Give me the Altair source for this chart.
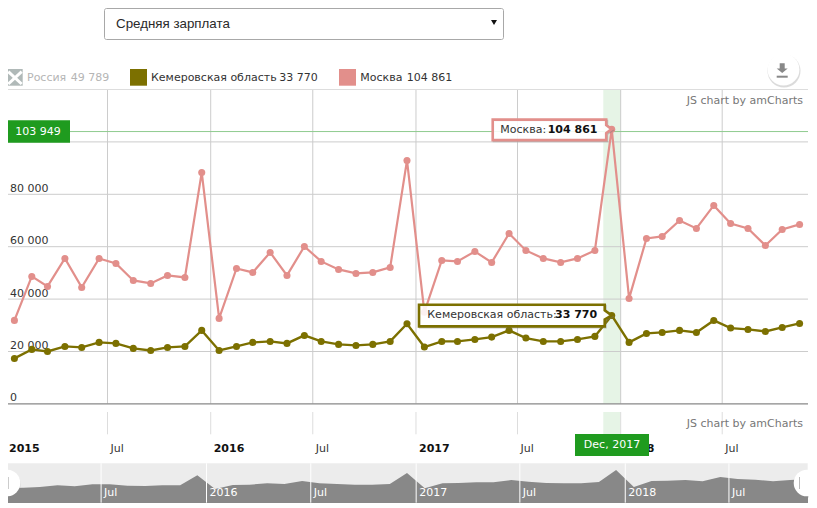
import altair as alt
import pandas as pd

months = [f"{y}-{m:02d}-16" for y in range(2015, 2019) for m in range(1, 13)][:47]
moscow = [31870, 48650, 44840, 55520, 44460, 55520, 53600, 47130, 45980, 49040, 48270, 88340,
          32630, 51700, 50180, 57820, 49040, 60100, 54380, 51330, 49800, 50180, 52090, 92920,
          35000, 54760, 54380, 58190, 54000, 65060, 58570, 55520, 54000, 55520, 58570, 104861,
          40260, 63150, 63920, 70020, 66970, 75750, 68880, 66970, 60480, 66590, 68500]
kemerovo = [17360, 20800, 20030, 21940, 21560, 23470, 23090, 21180, 20410, 21560, 21940, 28050,
            20410, 21940, 23470, 23850, 23090, 26140, 23850, 22710, 22320, 22710, 23850, 30590,
            21690, 23850, 23850, 24610, 25500, 28050, 25120, 23850, 23850, 24610, 25760, 33770,
            23470, 26900, 27280, 28050, 27280, 31860, 28940, 28430, 27660, 29190, 30720]
russia = [33600, 33900, 34500, 36000, 35100, 36900, 36900, 35700, 35400, 36000, 36000, 45000,
          32700, 36300, 36600, 37800, 37200, 39900, 37800, 37200, 36600, 36600, 37200, 47100,
          33300, 37800, 38100, 38700, 38700, 40800, 39300, 38100, 37800, 37800, 39000, 49789,
          34500, 39900, 40200, 40800, 39600, 43500, 41700, 41100, 39600, 40800, 41700]

y_ticks = [0, 20000, 40000, 60000, 80000, 100000]
y_labels = ["0", "20 000", "40 000", "60 000", "80 000"]
half_years = ["2015-07-01", "2016-07-01", "2017-07-01", "2018-07-01"]
year_starts = ["2015-01-01", "2016-01-01", "2017-01-01", "2018-01-01"]
year_names = ["2015", "2016", "2017", "2018"]
cursor_month = ["2017-12-01"]
cursor_next = ["2018-01-01"]
cursor_value = [103949]

FONT = "DejaVu Sans"
PINK = "#e28f8b"
OLIVE = "#7c7000"
GREEN = "#1f9b1f"

main = pd.DataFrame({"d": months, "moscow": moscow, "kemerovo": kemerovo, "russia": russia})
one = pd.DataFrame({"a": [0]})
tips = pd.DataFrame({"d": ["2017-12-16"], "m": [104861], "k": [33770]})

# scales reach past the plot area because the page margin is fixed
xs = alt.Scale(domain=["2015-01-01", "2018-12-01"], range=[-2, 800])
xn = alt.Scale(domain=["2015-01-16", "2018-11-16"], range=[-2, 800])
ys = alt.Scale(domain=[0, 120000], range=[395.9, 81.5])
yn = alt.Scale(domain=[20400, 55800], range=[494.7, 455.3])


def X(field="d", scale=xs):
    return alt.X(f"{field}:T", scale=scale, axis=None)


def Y(field):
    return alt.Y(f"{field}:Q", scale=ys, axis=None)


def txt(s, x, y, color="#333333", size=11, align="left", font=FONT, weight="normal"):
    return alt.Chart(one).mark_text(text=s, align=align, baseline="middle", font=font, fontSize=size,
                                    color=color, fontWeight=weight).encode(
        x=alt.value(x - 8), y=alt.value(y - 8))


def box(x1, x2, y1, y2, fill, stroke=None, radius=0):
    kw = {"stroke": stroke, "strokeWidth": 1} if stroke else {}
    return alt.Chart(one).mark_rect(fill=fill, cornerRadius=radius, **kw).encode(
        x=alt.value(x1 - 8), x2=alt.value(x2 - 8), y=alt.value(y1 - 8), y2=alt.value(y2 - 8))


def disc(x, y, size, color="white", opacity=1.0):
    return alt.Chart(one).mark_point(shape="circle", filled=True, size=size, color=color,
                                     opacity=opacity).encode(x=alt.value(x - 8), y=alt.value(y - 8))


def stroke_line(x1, y1, x2, y2, color, width):
    return alt.Chart(one).mark_rule(color=color, strokeWidth=width).encode(
        x=alt.value(x1 - 8), x2=alt.value(x2 - 8), y=alt.value(y1 - 8), y2=alt.value(y2 - 8))


ticks = pd.DataFrame({"d": sorted(half_years + year_starts)})
ticks_nav = ticks[ticks.d > "2015-01-01"]
years = pd.DataFrame({"d": year_starts, "t": year_names})
halves = pd.DataFrame({"d": half_years})
band = pd.DataFrame({"d": cursor_month, "e": cursor_next})
ytick = pd.DataFrame({"v": y_ticks})
ylab = pd.DataFrame({"v": y_ticks[:5], "t": y_labels})
cross = pd.DataFrame({"v": cursor_value})

layers = []

# dropdown
layers += [
    box(104.5, 503.5, 8.5, 39.5, "white", "#a8a8a8", 2),
    txt("Средняя зарплата", 116, 24, "#2a2a2a", 13.33, font="Liberation Sans"),
    alt.Chart(one).mark_point(shape="triangle-down", filled=True, size=36, color="#111111", opacity=1).encode(
        x=alt.value(494 - 8), y=alt.value(22.5 - 8)),
]

# green cursor band, frame and grid
for y1, y2 in [(89, 403.5), (412, 434.3)]:
    layers.append(alt.Chart(band).mark_rect(color="#e6f4e6").encode(
        x=X("d"), x2=alt.X2("e:T"), y=alt.value(y1 - 8), y2=alt.value(y2 - 8)))
layers += [
    alt.Chart(ticks).mark_rule(color="#cccccc", strokeWidth=1).encode(
        x=X(), y=alt.value(81), y2=alt.value(395.5)),
    alt.Chart(ticks).mark_rule(color="#dddddd", strokeWidth=1).encode(
        x=X(), y=alt.value(404), y2=alt.value(426.3)),
    alt.Chart(ytick[ytick.v > 0]).mark_rule(color="#cccccc", strokeWidth=1).encode(
        y=Y("v"), x=alt.value(-2), x2=alt.value(800)),
    alt.Chart(one).mark_rule(color="#dddddd", strokeWidth=1).encode(
        y=alt.value(81.5), x=alt.value(-2), x2=alt.value(800)),
    alt.Chart(ytick[ytick.v == 0]).mark_rule(color="#888888", strokeWidth=1.2).encode(
        y=Y("v"), x=alt.value(-2), x2=alt.value(800)),
    alt.Chart(cross).mark_rule(color="#8fcb8f", strokeWidth=1).encode(
        y=Y("v"), x=alt.value(-2), x2=alt.value(800)),
]

# value axis labels and credits
layers += [
    alt.Chart(ylab).mark_text(align="left", baseline="middle", font=FONT, fontSize=11, color="#333333",
                              dy=-5.5).encode(x=alt.value(2), y=Y("v"), text="t:N"),
    txt("JS chart by amCharts", 803, 101, "#777777", align="right"),
    txt("JS chart by amCharts", 803, 424, "#777777", align="right"),
]

# series
layers += [
    alt.Chart(main).mark_line(color=PINK, strokeWidth=2.2).encode(x=X(), y=Y("moscow")),
    alt.Chart(main).mark_point(filled=True, color=PINK, opacity=1, size=50).encode(x=X(), y=Y("moscow")),
    alt.Chart(main).mark_line(color=OLIVE, strokeWidth=2.4).encode(x=X(), y=Y("kemerovo")),
    alt.Chart(main).mark_point(filled=True, color=OLIVE, opacity=1, size=50).encode(x=X(), y=Y("kemerovo")),
]

# date axis
layers += [
    alt.Chart(years).mark_text(align="left", baseline="middle", font=FONT, fontSize=11, fontWeight="bold",
                               color="#111111", dx=3).encode(x=X(), y=alt.value(441), text="t:N"),
    alt.Chart(halves).mark_text(text="Jul", align="left", baseline="middle", font=FONT, fontSize=11,
                                color="#333333", dx=3).encode(x=X(), y=alt.value(441)),
]

# balloons: paths are drawn relative to the data point they point at
moscow_path = "M-119,-9.5 L-5.5,-9.5 L-5.5,-4 L0,0 L-5.5,4 L-5.5,11 L-119,11 Z"
kem_path = "M-192.7,-10.7 L-7,-10.7 L-7,-5 L0,0 L-7,4 L-7,11 L-192.7,11 Z"
moscow_shadow = "M-118,-8.5 L-4.5,-8.5 L-4.5,-3 L1,1 L-4.5,5 L-4.5,12 L-118,12 Z"
kem_shadow = "M-191.7,-9.7 L-6,-9.7 L-6,-4 L1,1 L-6,5 L-6,12 L-191.7,12 Z"
for shadow, path, field, col in [(moscow_shadow, moscow_path, "m", PINK), (kem_shadow, kem_path, "k", OLIVE)]:
    layers.append(alt.Chart(tips).mark_point(shape=shadow, size=4, filled=False, stroke="#777777",
                                             strokeWidth=2, opacity=0.4).encode(x=X(), y=Y(field)))
    layers.append(alt.Chart(tips).mark_point(shape=path, size=4, filled=True, fill="white", fillOpacity=0.88,
                                             stroke=col, strokeWidth=2.6, opacity=1).encode(x=X(), y=Y(field)))
layers += [
    txt("Москва:", 500.3, 129.5),
    txt("104 861", 547.7, 129.5, "#111111", weight="bold"),
    txt("Кемеровская область:", 427.3, 315),
    txt("33 770", 555, 315, "#111111", weight="bold"),
]

# cursor labels
layers += [
    box(6, 70, 120.3, 142.7, GREEN),
    txt("103 949", 38, 132, "white", align="center"),
    box(575, 649, 434, 456, GREEN),
    txt("Dec, 2017", 612, 445, "white", align="center"),
]

# legend
layers += [
    box(6, 22.7, 69, 85.7, "#b0b9b8"),
    stroke_line(8.3, 71.7, 21.7, 84, "white", 3),
    stroke_line(8.3, 84, 21.7, 71.7, "white", 3),
    txt("Россия", 27, 78, "#b5b5b5"),
    txt("49 789", 70.7, 78, "#b5b5b5"),
    box(130, 147, 69, 85.7, OLIVE),
    txt("Кемеровская область", 151, 78),
    txt("33 770", 279.3, 78),
    box(339, 356, 69, 85.7, PINK),
    txt("Москва", 360.3, 78),
    txt("104 861", 406.7, 78),
]

# download button
layers += [
    disc(784, 71, 1090, "#888888", 0.3),
    disc(783.5, 69.5, 1018),
    alt.Chart(one).mark_point(shape="M-2.5,-4.7 L2.5,-4.7 L2.5,0.5 L5.5,0.5 L0,5 L-5.5,0.5 L-2.5,0.5 Z",
                              size=4, filled=True, color="#888888", opacity=1).encode(
        x=alt.value(782.2 - 8), y=alt.value(68 - 8)),
    box(776.7, 787.7, 75.7, 77.7, "#888888"),
]

# navigator
layers += [
    box(6, 807.7, 463.3, 502.7, "#ececec"),
    alt.Chart(main).mark_area(color="#888888", opacity=1).encode(
        x=X("d", xn), y=alt.Y("russia:Q", scale=yn, axis=None), y2=alt.value(494.7)),
    alt.Chart(ticks_nav).mark_rule(color="white", strokeWidth=1).encode(
        x=X("d", xn), y=alt.value(455.3), y2=alt.value(494.7)),
    alt.Chart(years[years.d > "2015-01-01"]).mark_text(align="left", baseline="middle", font=FONT, fontSize=11,
                                                        color="white", dx=3).encode(
        x=X("d", xn), y=alt.value(485.4), text="t:N"),
    alt.Chart(halves).mark_text(text="Jul", align="left", baseline="middle", font=FONT, fontSize=11,
                                color="white", dx=3).encode(x=X("d", xn), y=alt.value(485.4)),
    disc(7, 484, 730, "#888888", 0.3),
    disc(7, 483, 707),
    box(7.8, 8.6, 477, 489, "#aaaaaa"),
    disc(807, 484, 730, "#888888", 0.3),
    disc(807, 483, 707),
    box(799, 799.8, 477, 489, "#aaaaaa"),
]

chart = alt.layer(*layers).resolve_scale(x="independent", y="independent").properties(
    width=801, height=495, padding=0, autosize=alt.AutoSizeParams(type="none")
).configure_view(stroke=None)

chart.save("out.html", embed_options={"renderer": "svg", "actions": False})
